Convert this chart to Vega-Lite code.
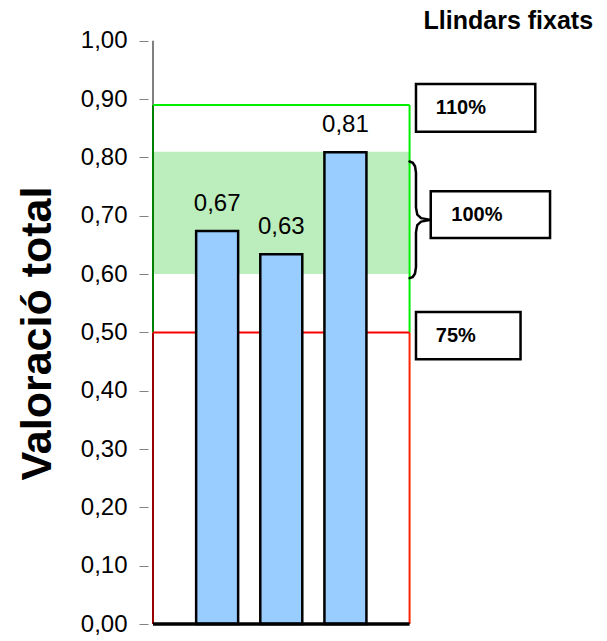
{
  "$schema": "https://vega.github.io/schema/vega-lite/v6.json",
  "width": 459,
  "height": 624,
  "autosize": {"type": "none"},
  "padding": {"left": 148, "top": 0, "right": 0, "bottom": 17},
  "background": "white",
  "config": {"view": {"stroke": null}, "font": "Liberation Sans"},
  "datasets": {
    "barres": [
      {"grup": "A", "posicio": 1, "valor": 0.674, "etiqueta": "0,67"},
      {"grup": "B", "posicio": 2, "valor": 0.634, "etiqueta": "0,63"},
      {"grup": "C", "posicio": 3, "valor": 0.809, "etiqueta": "0,81"}
    ],
    "franja": [{"de": 0.6, "a": 0.81}],
    "vores": [
      {"tram": "esq75", "x0": 0, "x1": 0, "y0": 0, "y1": 0.5},
      {"tram": "esq110", "x0": 0, "x1": 0, "y0": 0.5, "y1": 0.89},
      {"tram": "eix", "x0": 0, "x1": 0, "y0": 0.89, "y1": 1.0},
      {"tram": "dre75", "x0": 4, "x1": 4, "y0": 0, "y1": 0.5},
      {"tram": "dre110", "x0": 4, "x1": 4, "y0": 0.5, "y1": 0.89},
      {"tram": "sup110", "x0": 0, "x1": 4, "y0": 0.89, "y1": 0.89},
      {"tram": "sup75", "x0": 0, "x1": 4, "y0": 0.5, "y1": 0.5}
    ],
    "caixes": [
      {"text": "110%", "x0": 4.10, "x1": 5.96, "y0": 0.844, "y1": 0.926, "tx": 4.41, "ty": 0.885},
      {"text": "100%", "x0": 4.33, "x1": 6.19, "y0": 0.662, "y1": 0.742, "tx": 4.65, "ty": 0.702},
      {"text": "75%", "x0": 4.10, "x1": 5.73, "y0": 0.454, "y1": 0.535, "tx": 4.41, "ty": 0.494}
    ],
    "clau": [
      {"ordre": 1, "x": 4.00, "y": 0.793},
      {"ordre": 2, "x": 4.05, "y": 0.791},
      {"ordre": 3, "x": 4.085, "y": 0.785},
      {"ordre": 4, "x": 4.10, "y": 0.774},
      {"ordre": 5, "x": 4.10, "y": 0.714},
      {"ordre": 6, "x": 4.12, "y": 0.702},
      {"ordre": 7, "x": 4.18, "y": 0.696},
      {"ordre": 8, "x": 4.33, "y": 0.693},
      {"ordre": 9, "x": 4.18, "y": 0.690},
      {"ordre": 10, "x": 4.12, "y": 0.684},
      {"ordre": 11, "x": 4.10, "y": 0.672},
      {"ordre": 12, "x": 4.10, "y": 0.612},
      {"ordre": 13, "x": 4.085, "y": 0.601},
      {"ordre": 14, "x": 4.05, "y": 0.595},
      {"ordre": 15, "x": 4.00, "y": 0.593}
    ],
    "titol": [{"text": "Llindars fixats", "x": 5.54, "y": 1.020}]
  },
  "layer": [
    {
      "data": {"name": "franja"},
      "mark": {"type": "rect", "fill": "#44cc44", "fillOpacity": 0.36},
      "encoding": {
        "x": {"datum": 0, "type": "quantitative", "scale": {"domain": [0, 7], "nice": false, "zero": false}, "axis": null},
        "x2": {"datum": 4},
        "y": {"field": "de", "type": "quantitative", "scale": {"domain": [0, 1.07], "nice": false}, "axis": {
          "values": [0, 0.1, 0.2, 0.3, 0.4, 0.5, 0.6, 0.7, 0.8, 0.9, 1.0],
          "domain": false, "grid": false,
          "tickColor": "#808080", "tickSize": 9, "tickWidth": 1,
          "labelPadding": 12, "labelFontSize": 24, "labelColor": "black", "labelFont": "Liberation Sans",
          "labelExpr": "replace(format(datum.value, '.2f'), '.', ',')",
          "title": "Valoració total", "titleFontSize": 43, "titleFontWeight": "bold", "titleColor": "black",
          "titleFont": "Liberation Sans", "titleX": -98, "titleY": 333, "titleBaseline": "alphabetic", "titleAngle": -90
        }},
        "y2": {"field": "a"}
      }
    },
    {
      "data": {"name": "vores"},
      "mark": {"type": "rule", "strokeWidth": 2},
      "encoding": {
        "x": {"field": "x0", "type": "quantitative"},
        "x2": {"field": "x1"},
        "y": {"field": "y0", "type": "quantitative"},
        "y2": {"field": "y1"},
        "color": {"field": "tram", "type": "nominal", "legend": null, "scale": {
          "domain": ["esq75", "esq110", "eix", "dre75", "dre110", "sup110", "sup75"],
          "range": ["#990000", "#008000", "#808080", "#ff2200", "#00ee00", "#00ee00", "#ff0000"]
        }}
      }
    },
    {
      "data": {"name": "barres"},
      "mark": {"type": "bar", "size": 42, "fill": "#99ccff", "stroke": "black", "strokeWidth": 2.5},
      "encoding": {
        "x": {"field": "posicio", "type": "quantitative"},
        "y": {"field": "valor", "type": "quantitative"}
      }
    },
    {
      "data": {"name": "barres"},
      "mark": {"type": "text", "fontSize": 24, "color": "black", "baseline": "alphabetic", "dy": -20},
      "encoding": {
        "x": {"field": "posicio", "type": "quantitative"},
        "y": {"field": "valor", "type": "quantitative"},
        "text": {"field": "etiqueta"}
      }
    },
    {
      "data": {"values": [{"de": 0, "a": 4, "nivell": 0}]},
      "mark": {"type": "rule", "color": "black", "strokeWidth": 3.5},
      "encoding": {
        "x": {"field": "de", "type": "quantitative"},
        "x2": {"field": "a"},
        "y": {"field": "nivell", "type": "quantitative"}
      }
    },
    {
      "data": {"name": "caixes"},
      "mark": {"type": "rect", "fill": "white", "stroke": "black", "strokeWidth": 2.5},
      "encoding": {
        "x": {"field": "x0", "type": "quantitative"},
        "x2": {"field": "x1"},
        "y": {"field": "y0", "type": "quantitative"},
        "y2": {"field": "y1"}
      }
    },
    {
      "data": {"name": "caixes"},
      "mark": {"type": "text", "fontSize": 20, "fontWeight": "bold", "color": "black", "align": "left", "baseline": "middle"},
      "encoding": {
        "x": {"field": "tx", "type": "quantitative"},
        "y": {"field": "ty", "type": "quantitative"},
        "text": {"field": "text"}
      }
    },
    {
      "data": {"name": "clau"},
      "mark": {"type": "line", "color": "black", "strokeWidth": 2.5, "strokeJoin": "round", "strokeCap": "round"},
      "encoding": {
        "x": {"field": "x", "type": "quantitative"},
        "y": {"field": "y", "type": "quantitative"},
        "order": {"field": "ordre"}
      }
    },
    {
      "data": {"name": "titol"},
      "mark": {"type": "text", "fontSize": 25, "fontWeight": "bold", "color": "black", "align": "center", "baseline": "alphabetic"},
      "encoding": {
        "x": {"field": "x", "type": "quantitative"},
        "y": {"field": "y", "type": "quantitative"},
        "text": {"field": "text"}
      }
    }
  ]
}
